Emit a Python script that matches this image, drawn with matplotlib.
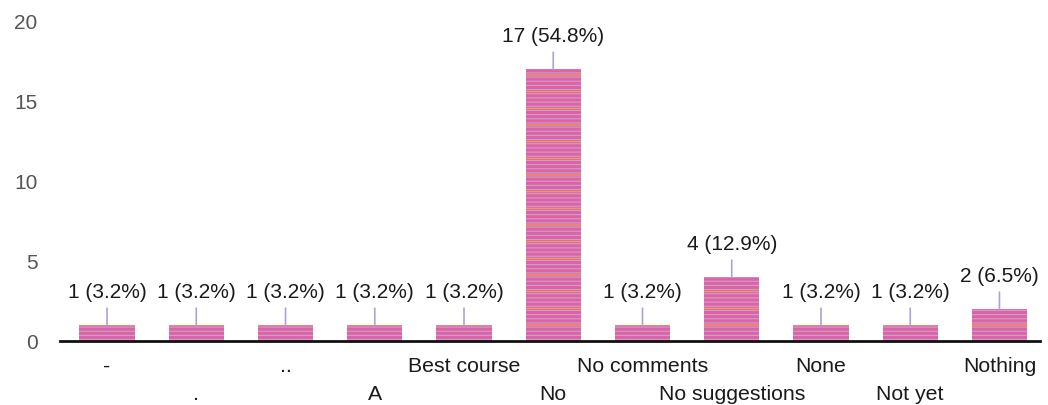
import matplotlib
matplotlib.use("Agg")
import matplotlib.pyplot as plt

categories = ["-", ".", "..", "A", "Best course", "No", "No comments",
              "No suggestions", "None", "Not yet", "Nothing"]
counts = [1, 1, 1, 1, 1, 17, 1, 4, 1, 1, 2]
percents = [3.2, 3.2, 3.2, 3.2, 3.2, 54.8, 3.2, 12.9, 3.2, 3.2, 6.5]
yticks = [0, 5, 10, 15, 20]

plt.rcParams["font.family"] = ["Liberation Sans", "DejaVu Sans"]
plt.rcParams["hatch.linewidth"] = 0.8

fig = plt.figure(figsize=(10.48, 4.06), dpi=100)
ax = fig.add_axes([0.057, 0.158, 0.935, 0.788])

x = list(range(len(categories)))
# pink bars with a scanned, striped look: grey fine stripes + orange stripes
ax.bar(x, counts, width=0.62, color="#df62a6", edgecolor="#c9a3c9",
       linewidth=0, hatch="----", zorder=2)
ax.bar(x, counts, width=0.62, color="none", edgecolor="#f5a04a",
       linewidth=0, hatch="-", zorder=2.1)

for xi, c, p in zip(x, counts, percents):
    ax.annotate(f"{c} ({p}%)", xy=(xi, c), xytext=(0, 17), textcoords="offset points",
                ha="center", va="bottom", fontsize=15, color="#1a1a1a",
                arrowprops=dict(arrowstyle="-", color="#a9a3d6", lw=1.2,
                                shrinkA=3, shrinkB=0))

ax.set_xlim(-0.53, 10.45)
ax.set_ylim(0, 20)
ax.set_yticks(yticks)
ax.set_yticklabels([str(t) for t in yticks], fontsize=15, color="#555555")
ax.set_xticks(x)
ax.set_xticklabels(categories, fontsize=15.3, color="#1a1a1a")
ax.tick_params(axis="both", length=0)
ax.tick_params(axis="y", pad=16)
for i, tick in enumerate(ax.xaxis.get_major_ticks()):
    tick.set_pad(11 if i % 2 == 0 else 31)

for side in ["top", "right", "left"]:
    ax.spines[side].set_visible(False)
ax.spines["bottom"].set_linewidth(2)
ax.spines["bottom"].set_color("#111111")
ax.spines["bottom"].set_zorder(3)

fig.savefig("out.png", dpi=100)
